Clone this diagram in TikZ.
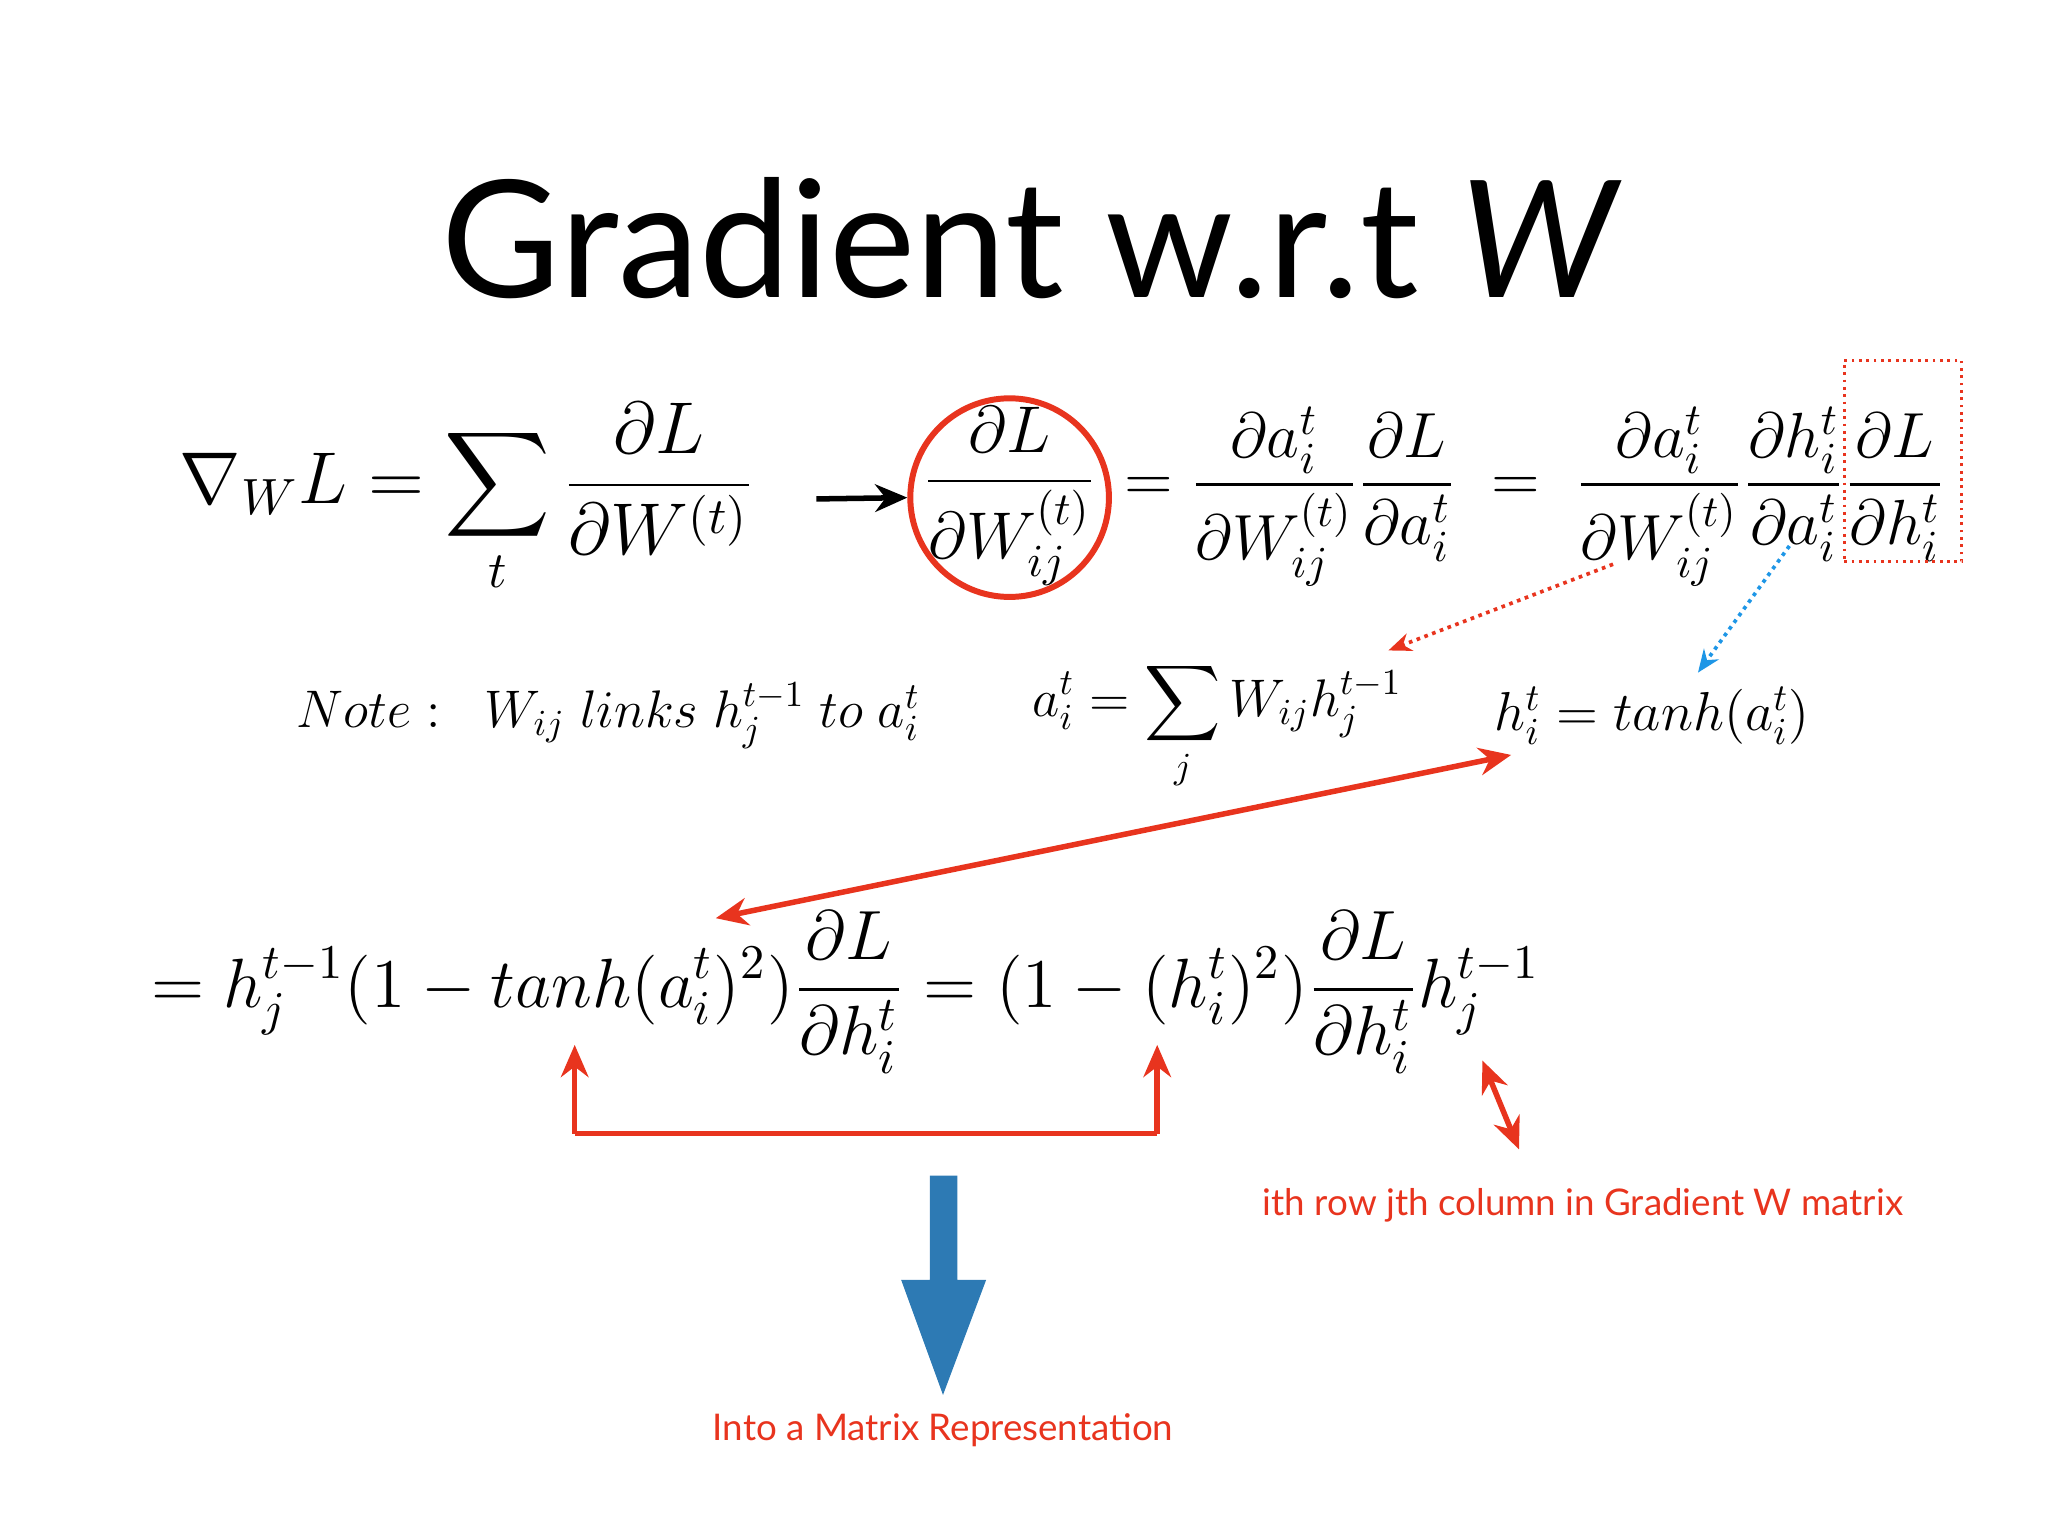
\documentclass[tikz,border=0pt]{standalone}
\usepackage{amsmath}
\usepackage{graphicx}
\usepackage{fontspec}
\newfontfamily\titlefont{Lato}
\usetikzlibrary{arrows.meta}
\definecolor{myred}{RGB}{232,52,30}
\definecolor{myblue}{RGB}{45,122,180}
\definecolor{skyb}{RGB}{30,150,230}
\tikzset{px/.style={x=0.01cm,y=-0.01cm},
 eq/.style={inner sep=0pt,font=\fontsize{14.4}{17}\selectfont},
 lab/.style={inner sep=0pt,text=myred,font=\titlefont\fontsize{8}{10}\selectfont},
 redar/.style={myred,line width=1.2pt,-{Stealth[length=7pt,width=6pt]}}}
\begin{document}
\begin{tikzpicture}[px]
\useasboundingbox (0,0) rectangle (1568,1176);
\node[inner sep=0pt,font=\titlefont\fontsize{35.5}{42}\selectfont] (title) at (790,182) {Gradient w.r.t \textit{W}};
\node[eq] (g) at (358,382) {\scalebox{1.11}{$\displaystyle \nabla_W L=\sum_t\frac{\partial L}{\partial W^{(t)}}$}};
\node[eq] (c) at (773,380) {$\displaystyle \frac{\partial L}{\partial W^{(t)}_{ij}}$};
\node[draw=myred,line width=1.3pt,circle,minimum size=152*0.2845pt] (circ2) at (773,381){};
\coordinate (arS) at (625,382);
\draw[line width=1.2pt,-{Stealth[length=7pt,width=6pt]}] (arS) -- (circ2.west);
\node[eq,anchor=west] (r1) at (860,380) {\scalebox{0.965}{$\displaystyle =\frac{\partial a_i^t}{\partial W^{(t)}_{ij}}\frac{\partial L}{\partial a_i^t}\;=\;\frac{\partial a_i^t}{\partial W^{(t)}_{ij}}\frac{\partial h_i^t}{\partial a_i^t}\frac{\partial L}{\partial h_i^t}$}};
\node[draw=myred,densely dotted,line width=0.6pt,minimum width=90*0.2845pt,minimum height=154*0.2845pt] (box) at (1457,353) {};
\node[eq] (note) at (466,548) {\scalebox{0.8}{$Note:\;\; W_{ij}\; links\; h_j^{t-1}\; to\; a_i^t$}};
\node[eq] (asum) at (932,556) {\scalebox{0.8}{$\displaystyle a_i^t=\sum_j W_{ij}h_j^{t-1}$}};
\node[eq] (h) at (1265,548) {\scalebox{0.83}{$h_i^t = tanh(a_i^t)$}};
\coordinate (d1s) at (1235,432); \coordinate (d1e) at (1063,498);
\coordinate (d2s) at (1370,418); \coordinate (d2e) at (1300,515);
\draw[myred,densely dotted,line width=0.8pt,-{Stealth[length=5pt,width=4pt]}] (d1s) -- (d1e);
\draw[skyb,densely dotted,line width=0.8pt,-{Stealth[length=5pt,width=4pt]}] (d2s) -- (d2e);
\coordinate (hA) at (1157,578); \coordinate (hB) at (548,703);
\draw[redar,{Stealth[length=7pt,width=6pt]}-{Stealth[length=7pt,width=6pt]}] (hA) -- (hB);
\node[eq,anchor=west] (r3) at (115,760) {\scalebox{1.055}{$\displaystyle = h_j^{t-1}(1-tanh(a_i^t)^2)\frac{\partial L}{\partial h_i^t}=(1-(h_i^t)^2)\frac{\partial L}{\partial h_i^t}h_j^{t-1}$}};
\coordinate (b1) at (440,868); \coordinate (b2) at (886,868);
\coordinate (b1t) at (440,800); \coordinate (b2t) at (886,800);
\draw[myred,line width=1.2pt] (b1) -- (b2);
\draw[redar] (b1) -- (b1t);
\draw[redar] (b2) -- (b2t);
\coordinate (dA) at (1135,812); \coordinate (dB) at (1163,880);
\draw[redar,{Stealth[length=7pt,width=6pt]}-{Stealth[length=7pt,width=6pt]}] (dA) -- (dB);
\node[lab] (l1) at (1212,923) {ith row jth column in Gradient W matrix};
\fill[myblue] (712,900) -- (733,900) -- (733,980) -- (755,980) -- (722,1068) -- (690,980) -- (712,980) -- cycle;
\node[lab] (l2) at (722,1095) {Into a Matrix Representation};
\end{tikzpicture}
\end{document}
